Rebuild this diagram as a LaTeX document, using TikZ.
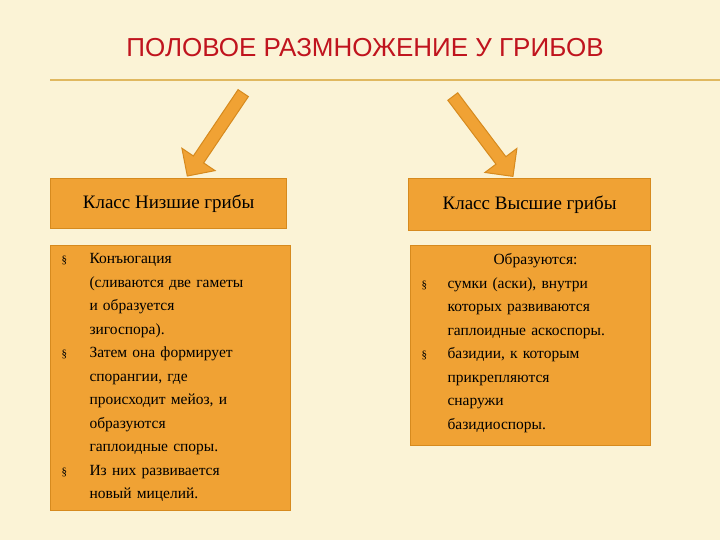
\documentclass[tikz,border=0pt]{standalone}
\usepackage{fontspec}
\setmainfont{Liberation Serif}
\newfontfamily\titlefont{Liberation Sans}
\usetikzlibrary{shapes.arrows}
\definecolor{bg}{HTML}{FBF3D6}
\definecolor{boxfill}{HTML}{F0A234}
\definecolor{boxline}{HTML}{D68A1E}
\definecolor{titlecol}{HTML}{C0141E}
\definecolor{rulecol}{HTML}{E0B860}
\tikzset{
 box/.style={draw=boxline,line width=1.2pt,fill=boxfill,anchor=north west,inner sep=0pt},
 bigarrow/.style={single arrow,draw=boxline,fill=boxfill,line width=1pt,minimum height=100pt,minimum width=40pt,single arrow head extend=10pt,inner sep=4pt}
}
\begin{document}
\begin{tikzpicture}[x=1pt,y=-1pt]
\fill[bg] (0,0) rectangle (720,540);
\useasboundingbox (0,0) rectangle (720,540);
\node[text=titlecol,font=\titlefont\fontsize{26}{30}\selectfont] (title) at (365,48) {ПОЛОВОЕ РАЗМНОЖЕНИЕ У ГРИБОВ};
\draw[rulecol,line width=1.2pt] (50,80) -- (720,80);
\node[box,minimum width=236pt,minimum height=50pt] (lh) at (50,178) {};
\node[font=\fontsize{19}{21}\selectfont] at (lh.center) {Класс Низшие грибы};
\node[box,minimum width=242pt,minimum height=52pt] (rh) at (408,178) {};
\node[font=\fontsize{19}{21}\selectfont] at (rh.center) {Класс Высшие грибы};
\node[box,minimum width=240pt,minimum height=265pt] (lb) at (50,245) {};
\node[box,minimum width=240pt,minimum height=200pt] (rb) at (410,245) {};
\node[bigarrow,rotate=-124] (la) at (217,132) {};
\node[bigarrow,rotate=-53] (ra) at (481,134) {};
\node[anchor=north west,align=left,text width=215pt,font=\fontsize{15.5}{23.5}\selectfont] (lt) at (58,250) {%
\makebox[28pt][l]{\fontsize{11}{11}\selectfont\S}Конъюгация\\
\hspace*{28pt}(сливаются две гаметы\\
\hspace*{28pt}и образуется\\
\hspace*{28pt}зигоспора).\\
\makebox[28pt][l]{\fontsize{11}{11}\selectfont\S}Затем она формирует\\
\hspace*{28pt}спорангии, где\\
\hspace*{28pt}происходит мейоз, и\\
\hspace*{28pt}образуются\\
\hspace*{28pt}гаплоидные споры.\\
\makebox[28pt][l]{\fontsize{11}{11}\selectfont\S}Из них развивается\\
\hspace*{28pt}новый мицелий.};
\node[anchor=north west,align=left,text width=235pt,font=\fontsize{15.5}{23.5}\selectfont] (rt) at (418,250) {%
\hspace*{72pt}Образуются:\\
\makebox[26pt][l]{\fontsize{11}{11}\selectfont\S}сумки (аски), внутри\\
\hspace*{26pt}которых развиваются\\
\hspace*{26pt}гаплоидные аскоспоры.\\
\makebox[26pt][l]{\fontsize{11}{11}\selectfont\S}базидии, к которым\\
\hspace*{26pt}прикрепляются\\
\hspace*{26pt}снаружи\\
\hspace*{26pt}базидиоспоры.};
\end{tikzpicture}
\end{document}
